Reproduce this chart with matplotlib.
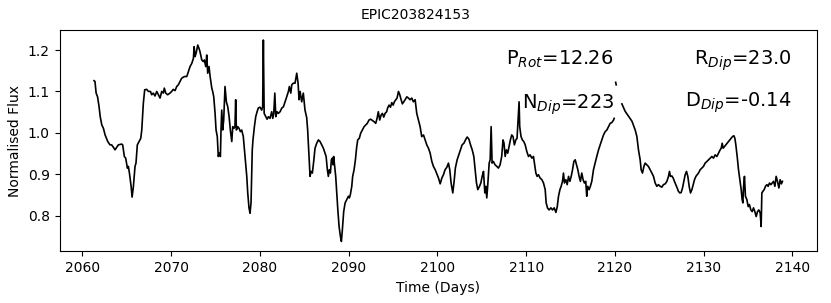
import numpy as np
import matplotlib
matplotlib.use("Agg")
import matplotlib.pyplot as plt

# light curve (NaN marks gaps in the data)
time = [
    2061.31, 2061.42, 2061.55, 2061.71, 2061.88, 2062.01, 2062.19, 2062.37, 2062.56, 2062.86,
    2063.12, 2063.30, 2063.50, 2063.68, 2063.87, 2064.05, 2064.43, 2064.54, 2064.73, 2064.88,
    2065.07, 2065.18, 2065.30, 2065.49, 2065.60, 2065.75, 2065.93, 2066.04, 2066.19, 2066.38,
    2066.58, 2066.69, 2066.87, 2067.02, 2067.24, 2067.44, 2067.67, 2067.81, 2067.99, 2068.18,
    2068.38, 2068.56, 2068.75, 2068.94, 2069.12, 2069.23, 2069.39, 2069.61, 2069.87, 2070.06,
    2070.24, 2070.44, 2070.63, 2070.81, 2071.00, 2071.19, 2071.50, 2071.76, 2071.94, 2072.13,
    2072.33, 2072.51, 2072.59, 2072.70, 2072.83, 2073.00, 2073.14, 2073.25, 2073.45, 2073.63,
    2073.74, 2073.90, 2074.01, 2074.12, 2074.27, 2074.39, 2074.58, 2074.68, 2074.80, 2074.95,
    2075.06, 2075.20, 2075.31, 2075.43, 2075.55, 2075.62, 2075.70, 2075.81, 2075.92, 2076.07,
    2076.22, 2076.38, 2076.53, 2076.67, 2076.83, 2076.94, 2077.08, 2077.19, 2077.27, 2077.35,
    2077.50, 2077.65, 2077.80, 2077.95, 2078.13, 2078.33, 2078.52, 2078.63, 2078.77, 2078.89,
    2079.00, 2079.14, 2079.22, 2079.38, 2079.53, 2079.68, 2079.82, 2080.01, 2080.20, 2080.31,
    2080.39, 2080.48, 2080.67, 2080.81, 2080.96, 2081.14, 2081.33, 2081.45, 2081.56, 2081.68,
    2081.79, 2081.93, 2082.08, 2082.27, 2082.47, 2082.65, 2082.84, 2083.02, 2083.21, 2083.32,
    2083.48, 2083.59, 2083.77, 2083.96, 2084.15, 2084.30, 2084.41, 2084.53, 2084.71, 2084.89,
    2085.08, 2085.27, 2085.38, 2085.54, 2085.65, 2085.76, 2085.91, 2086.06, 2086.21, 2086.40,
    2086.59, 2086.78, 2086.96, 2087.15, 2087.34, 2087.46, 2087.60, 2087.71, 2087.82, 2087.94,
    2088.05, 2088.17, 2088.24, 2088.31, 2088.39, 2088.54, 2088.66, 2088.78, 2088.92, 2089.07,
    2089.18, 2089.29, 2089.44, 2089.60, 2089.79, 2089.97, 2090.08, 2090.19, 2090.35, 2090.45,
    2090.61, 2090.76, 2090.91, 2091.02, 2091.20, 2091.35, 2091.55, 2091.74, 2091.92, 2092.10,
    2092.29, 2092.48, 2092.67, 2092.86, 2093.05, 2093.20, 2093.34, 2093.50, 2093.65, 2093.80,
    2093.95, 2094.10, 2094.28, 2094.39, 2094.55, 2094.71, 2094.86, 2095.01, 2095.15, 2095.31,
    2095.45, 2095.61, 2095.76, 2095.91, 2096.05, 2096.21, 2096.36, 2096.55, 2096.73, 2096.92,
    2097.11, 2097.29, 2097.49, 2097.67, 2097.86, 2098.05, 2098.23, 2098.43, 2098.62, 2098.80,
    2098.99, 2099.18, 2099.37, 2099.55, 2099.75, 2099.94, 2100.12, 2100.31, 2100.50, 2100.68,
    2100.86, 2101.06, 2101.24, 2101.39, 2101.54, 2101.73, 2101.88, 2102.02, 2102.22, 2102.41,
    2102.59, 2102.78, 2102.98, 2103.16, 2103.35, 2103.54, 2103.73, 2103.92, 2104.10, 2104.25,
    2104.40, 2104.55, 2104.74, 2104.89, 2105.04, 2105.19, 2105.34, 2105.45, 2105.56, 2105.66,
    2105.83, 2105.94, 2106.05, 2106.16, 2106.30, 2106.49, 2106.69, 2106.87, 2107.06, 2107.24,
    2107.39, 2107.50, 2107.63, 2107.77, 2107.92, 2108.07, 2108.22, 2108.37, 2108.52, 2108.67,
    2108.83, 2108.97, 2109.11, 2109.20, 2109.27, 2109.42, 2109.57, 2109.73, 2109.89, 2110.07,
    2110.26, 2110.44, 2110.64, 2110.82, 2110.93, 2111.09, 2111.23, 2111.38, 2111.57, 2111.77,
    2111.95, 2112.14, 2112.25, 2112.40, 2112.58, 2112.78, 2112.97, 2113.15, 2113.35, 2113.50,
    2113.64, 2113.80, 2113.94, 2114.09, 2114.20, 2114.31, 2114.47, 2114.62, 2114.77, 2114.92,
    2115.07, 2115.22, 2115.37, 2115.52, 2115.67, 2115.82, 2115.96, 2116.11, 2116.26, 2116.41,
    2116.56, 2116.71, 2116.82, 2116.93, 2117.09, 2117.23, 2117.39, 2117.58, 2117.76, 2117.95,
    2118.15, 2118.33, 2118.52, 2118.71, 2118.90, 2119.09, 2119.27, 2119.46, 2119.65, 2119.84,
    2119.91, np.nan, 2120.08, 2120.14, np.nan,
    2120.78, 2121.15, 2121.54, 2121.92, 2122.28, 2122.47, 2122.65, 2122.84, 2122.95, 2123.10,
    2123.26, 2123.40, 2123.59, 2123.77, 2123.97, 2124.16, 2124.34, 2124.53, 2124.72, 2124.90,
    2125.09, 2125.28, 2125.46, 2125.66, 2125.85, 2126.03, 2126.14, 2126.25, 2126.41, 2126.56,
    2126.70, 2126.86, 2127.01, 2127.15, 2127.31, 2127.46, 2127.61, 2127.76, 2127.91, 2128.06,
    2128.21, 2128.36, 2128.51, 2128.67, 2128.81, 2128.96, 2129.12, 2129.26, 2129.41, 2129.60,
    2129.79, 2129.97, 2130.16, 2130.36, 2130.54, 2130.73, 2130.92, 2131.10, 2131.29, 2131.48,
    2131.66, 2131.85, 2131.97, 2132.08, 2132.19, 2132.34, 2132.50, 2132.64, 2132.79, 2132.95,
    2133.09, 2133.24, 2133.40, 2133.51, 2133.62, 2133.77, 2133.92, 2134.07, 2134.22, 2134.33,
    2134.41, 2134.48, 2134.59, 2134.70, 2134.86, 2135.01, 2135.15, 2135.31, 2135.46, 2135.61,
    2135.76, 2135.91, 2136.06, 2136.21, 2136.36, 2136.47, 2136.55, 2136.67, 2136.81, 2136.96,
    2137.12, 2137.26, 2137.41, 2137.57, 2137.71, 2137.86, 2138.02, 2138.16, 2138.31, 2138.47,
    2138.61, 2138.76, 2138.87,
]

flux = [
    1.126, 1.124, 1.096, 1.087, 1.063, 1.039, 1.019, 1.011, 0.995, 0.979,
    0.971, 0.971, 0.965, 0.959, 0.965, 0.971, 0.973, 0.971, 0.943, 0.939,
    0.915, 0.919, 0.903, 0.871, 0.845, 0.871, 0.919, 0.927, 0.971, 0.979,
    0.987, 1.007, 1.072, 1.104, 1.105, 1.100, 1.100, 1.092, 1.096, 1.089,
    1.100, 1.092, 1.084, 1.100, 1.096, 1.108, 1.096, 1.092, 1.096, 1.100,
    1.105, 1.102, 1.112, 1.116, 1.124, 1.132, 1.136, 1.136, 1.148, 1.160,
    1.168, 1.180, 1.208, 1.184, 1.194, 1.212, 1.204, 1.196, 1.176, 1.172,
    1.176, 1.160, 1.188, 1.144, 1.160, 1.136, 1.108, 1.100, 1.087, 1.047,
    1.007, 0.991, 0.943, 0.951, 0.943, 1.007, 1.055, 1.007, 1.031, 1.112,
    1.075, 1.063, 1.039, 1.007, 0.979, 1.015, 1.011, 1.015, 1.080, 1.007,
    1.015, 1.011, 1.003, 1.007, 0.991, 0.943, 0.895, 0.855, 0.819, 0.806,
    0.831, 0.959, 0.983, 1.015, 1.039, 1.051, 1.060, 1.062, 1.055, 1.063,
    1.224, 1.047, 1.039, 1.033, 1.039, 1.035, 1.051, 1.035, 1.047, 1.096,
    1.039, 1.051, 1.047, 1.051, 1.060, 1.063, 1.075, 1.087, 1.100, 1.112,
    1.096, 1.116, 1.120, 1.120, 1.144, 1.120, 1.080, 1.100, 1.075, 1.096,
    1.055, 1.037, 1.007, 0.943, 0.895, 0.907, 0.903, 0.931, 0.963, 0.975,
    0.983, 0.979, 0.971, 0.963, 0.951, 0.943, 0.911, 0.895, 0.911, 0.903,
    0.935, 0.939, 0.923, 0.943, 0.927, 0.895, 0.855, 0.814, 0.774, 0.750,
    0.738, 0.766, 0.810, 0.831, 0.839, 0.847, 0.843, 0.851, 0.871, 0.895,
    0.911, 0.935, 0.967, 0.983, 0.987, 0.999, 1.007, 1.015, 1.019, 1.023,
    1.031, 1.033, 1.030, 1.027, 1.023, 1.035, 1.051, 1.031, 1.043, 1.047,
    1.038, 1.047, 1.051, 1.060, 1.067, 1.062, 1.073, 1.067, 1.075, 1.080,
    1.084, 1.100, 1.092, 1.080, 1.070, 1.075, 1.080, 1.087, 1.084, 1.080,
    1.084, 1.075, 1.080, 1.047, 1.031, 1.015, 0.991, 0.995, 0.983, 0.971,
    0.963, 0.951, 0.931, 0.919, 0.911, 0.901, 0.891, 0.877, 0.891, 0.899,
    0.911, 0.917, 0.927, 0.911, 0.879, 0.855, 0.883, 0.915, 0.935, 0.947,
    0.959, 0.971, 0.975, 0.983, 0.990, 0.985, 0.971, 0.959, 0.943, 0.911,
    0.879, 0.863, 0.871, 0.879, 0.895, 0.907, 0.855, 0.871, 0.843, 0.871,
    0.927, 0.935, 1.015, 0.927, 0.931, 0.923, 0.919, 0.915, 0.923, 0.943,
    0.983, 0.975, 0.943, 0.959, 0.951, 0.967, 0.983, 0.995, 0.991, 0.971,
    0.983, 0.987, 1.039, 1.075, 1.015, 0.991, 0.983, 0.979, 0.971, 0.955,
    0.943, 0.947, 0.939, 0.943, 0.927, 0.903, 0.895, 0.899, 0.891, 0.887,
    0.879, 0.863, 0.831, 0.819, 0.814, 0.819, 0.814, 0.819, 0.808, 0.822,
    0.847, 0.863, 0.871, 0.883, 0.903, 0.879, 0.887, 0.875, 0.895, 0.883,
    0.895, 0.911, 0.931, 0.935, 0.923, 0.911, 0.895, 0.883, 0.903, 0.887,
    0.879, 0.883, 0.847, 0.871, 0.863, 0.871, 0.883, 0.911, 0.927, 0.943,
    0.959, 0.971, 0.983, 0.995, 1.003, 1.007, 1.015, 1.023, 1.025, 1.031,
    1.035, np.nan, 1.122, 1.116, np.nan,
    1.070, 1.052, 1.040, 1.028, 1.007, 0.991, 0.959, 0.935, 0.911, 0.903,
    0.919, 0.927, 0.923, 0.919, 0.911, 0.903, 0.895, 0.879, 0.871, 0.875,
    0.871, 0.869, 0.875, 0.877, 0.883, 0.895, 0.907, 0.895, 0.896, 0.891,
    0.883, 0.875, 0.867, 0.859, 0.855, 0.856, 0.867, 0.883, 0.899, 0.907,
    0.895, 0.871, 0.855, 0.863, 0.875, 0.887, 0.895, 0.899, 0.903, 0.911,
    0.915, 0.919, 0.927, 0.931, 0.935, 0.939, 0.943, 0.939, 0.947, 0.943,
    0.951, 0.959, 0.963, 0.975, 0.963, 0.967, 0.971, 0.975, 0.979, 0.983,
    0.987, 0.991, 0.993, 0.987, 0.971, 0.943, 0.911, 0.887, 0.863, 0.839,
    0.831, 0.867, 0.895, 0.847, 0.839, 0.822, 0.827, 0.814, 0.810, 0.819,
    0.810, 0.798, 0.810, 0.814, 0.807, 0.774, 0.855, 0.859, 0.863, 0.871,
    0.875, 0.871, 0.879, 0.875, 0.879, 0.883, 0.871, 0.895, 0.883, 0.867,
    0.887, 0.877, 0.883,
]

star = "EPIC203824153"
p_rot = 12.26
r_dip = 23.0
n_dip = 223
d_dip = -0.14

fig, ax = plt.subplots(figsize=(8.31, 3.03), dpi=100)
fig.subplots_adjust(left=0.0717, right=0.983, top=0.901, bottom=0.170)
ax.plot(time, flux, color="black", linewidth=1.2)
fig.suptitle(star, fontsize=10, y=0.975)
ax.set_xlabel("Time (Days)")
ax.set_ylabel("Normalised Flux")
ax.set_xticks(np.arange(2060, 2141, 10))
ax.set_yticks([0.8, 0.9, 1.0, 1.1, 1.2])

ax.text(0.732, 0.842, r"P$_{Rot}$=" + str(p_rot), transform=ax.transAxes,
        ha="right", va="baseline", fontsize=14)
ax.text(0.966, 0.842, r"R$_{Dip}$=" + str(r_dip), transform=ax.transAxes,
        ha="right", va="baseline", fontsize=14)
ax.text(0.733, 0.6465, r"N$_{Dip}$=" + str(n_dip), transform=ax.transAxes,
        ha="right", va="baseline", fontsize=14)
ax.text(0.966, 0.654, r"D$_{Dip}$=" + str(d_dip), transform=ax.transAxes,
        ha="right", va="baseline", fontsize=14)

fig.savefig("out.png", dpi=100)
